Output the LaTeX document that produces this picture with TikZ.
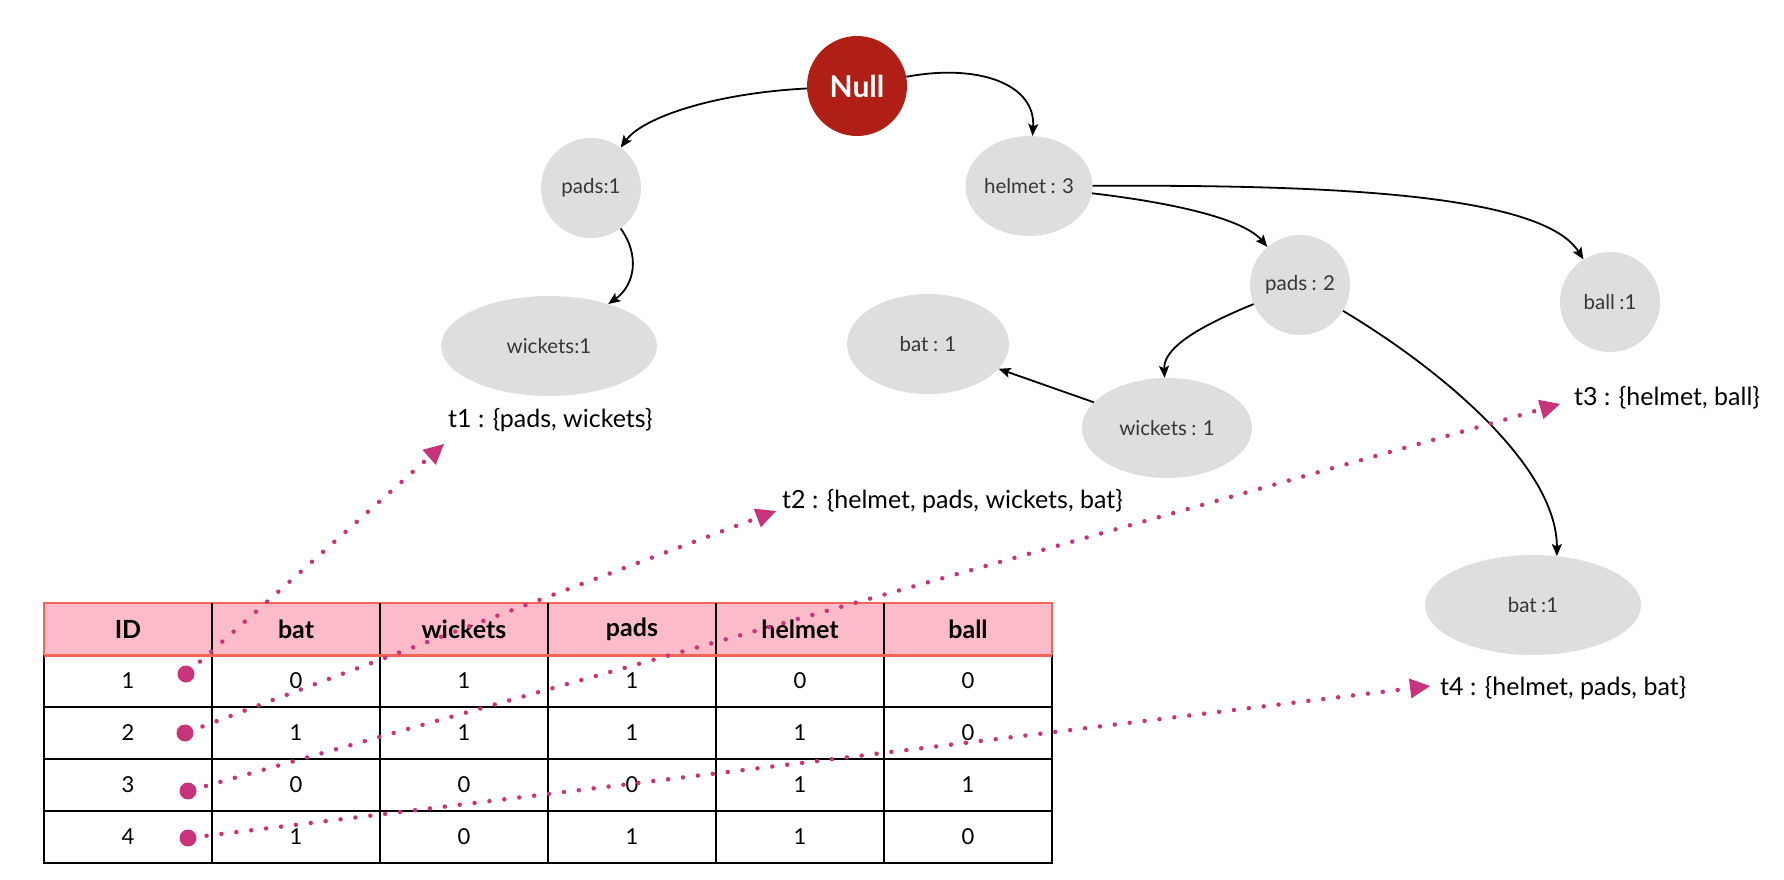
\documentclass[tikz,border=0pt]{standalone}
\usepackage{fontspec}
\setmainfont{Lato}
\usetikzlibrary{arrows.meta,shapes.geometric}
\definecolor{nullred}{RGB}{176,31,21}
\definecolor{nodegray}{RGB}{222,222,222}
\definecolor{labelgray}{RGB}{55,55,55}
\definecolor{dotmag}{RGB}{199,52,124}
\definecolor{hdrpink}{RGB}{252,187,200}
\definecolor{hdrline}{RGB}{242,100,85}
\newcommand\treefont{\fontsize{20.5}{24}\selectfont\spaceskip=4.5pt\relax}
\begin{document}
\begin{tikzpicture}[x=1pt,y=-1pt,
  tn/.style={ellipse, fill=nodegray, text=labelgray, inner sep=0pt, font=\treefont},
  tarrow/.style={line width=1.8pt, -{Stealth[length=12pt,width=10pt,inset=2.5pt]}},
  dotline/.style={draw=dotmag, line width=4.5pt, line cap=round, dash pattern=on 0pt off 15pt, shorten <=10pt, -{Triangle[length=20pt,width=20pt,line width=0pt]}},
  lbl/.style={inner sep=0pt, anchor=base west, font=\fontsize{25}{29}\selectfont},
  hdr/.style={inner sep=0pt, font=\bfseries\fontsize{25}{30}\selectfont},
  cell/.style={inner sep=0pt, font=\fontsize{22}{26}\selectfont},
  bigdot/.style={circle, fill=dotmag, minimum size=17pt, inner sep=0pt}]
\useasboundingbox (0,0) rectangle (1784,879);

% tree nodes
\node[circle, fill=nullred, minimum size=100pt, inner sep=0pt, text=white, font=\bfseries\fontsize{30}{36}\selectfont] (null) at (857,86) {Null};
\node[tn, minimum width=100pt, minimum height=100pt] (pads1) at (591,188) {pads:1};
\node[tn, minimum width=216pt, minimum height=100pt] (wick1) at (549,346) {wickets:1};
\node[tn, minimum width=118pt, minimum height=100pt] (helmet) at (1029,186) {helmet : 3};
\node[tn, minimum width=100pt, minimum height=100pt] (pads2) at (1300,285) {pads : 2};
\node[tn, minimum width=162pt, minimum height=100pt] (batl) at (928,344) {bat : 1};
\node[tn, minimum width=170pt, minimum height=100pt] (wick2) at (1167,428) {wickets : 1};
\node[tn, minimum width=100pt, minimum height=100pt] (ball) at (1610,302) {ball :1};
\node[tn, minimum width=216pt, minimum height=100pt] (batr) at (1533,605) {bat :1};

% tree connectors
\draw[tarrow] (null) .. controls (716,93) and (643,117) .. (pads1);
\draw[tarrow] (null) .. controls (980,63) and (1036,85) .. (helmet);
\draw[tarrow] (pads1) .. controls (640,255) and (635,285) .. (wick1);
\draw[tarrow] (helmet) .. controls (1150,200) and (1240,215) .. (pads2);
\draw[tarrow] (helmet) .. controls (1300,185) and (1540,190) .. (ball);
\draw[tarrow] (pads2) .. controls (1210,322) and (1163,345) .. (wick2);
\draw[tarrow] (wick2) -- (batl);
\draw[tarrow] (pads2) .. controls (1450,375) and (1557,470) .. (batr.64);

% transaction labels
\node[lbl] (t1) at (448,427) {t1 : \{pads, wickets\}};
\node[lbl] (t2) at (782,508) {t2 : \{helmet, pads, wickets, bat\}};
\node[lbl] (t3) at (1574,405) {t3 : \{helmet, ball\}};
\node[lbl] (t4) at (1440,695) {t4 : \{helmet, pads, bat\}};

% table
\path[fill=hdrpink] (44,603) rectangle (1052,655);
\draw[hdrline, line width=1.2pt] (44,655) -- (44,603) -- (1052,603) -- (1052,655);
\foreach \i in {1,...,5} \draw[line width=1.3pt] ({44+168*\i},603) -- ({44+168*\i},863);
\draw[line width=1.3pt] (44,655) -- (44,863) -- (1052,863) -- (1052,655);
\foreach \yy in {707,759,811} \draw[line width=1.3pt] (44,\yy) -- (1052,\yy);
\draw[hdrline, line width=3pt] (44,655) -- (1052,655);

\foreach \nm [count=\c] in {ID,bat,wickets,pads,helmet,ball}
  \node[hdr] (h-\c) at ({44+168*(\c-0.5)},629) {\nm};
\foreach \vals [count=\r] in {{1,0,1,1,0,0},{2,1,1,1,1,0},{3,0,0,0,1,1},{4,1,0,1,1,0}}
  \foreach \v [count=\c] in \vals
    \node[cell] (c-\r-\c) at ({44+168*(\c-0.5)},{681+52*(\r-1)}) {\v};

% row markers and dotted arrows
\node[bigdot] (d1) at (186,674) {};
\node[bigdot] (d2) at (185,733) {};
\node[bigdot] (d3) at (188,791) {};
\node[bigdot] (d4) at (188,838) {};
\coordinate (a1) at (444,444);
\coordinate (a2) at (776,511);
\coordinate (a3) at (1560,404);
\coordinate (a4) at (1430,686);
\draw[dotline] (d1) -- (a1);
\draw[dotline] (d2) -- (a2);
\draw[dotline] (d3) -- (a3);
\draw[dotline] (d4) -- (a4);
\end{tikzpicture}
\end{document}
